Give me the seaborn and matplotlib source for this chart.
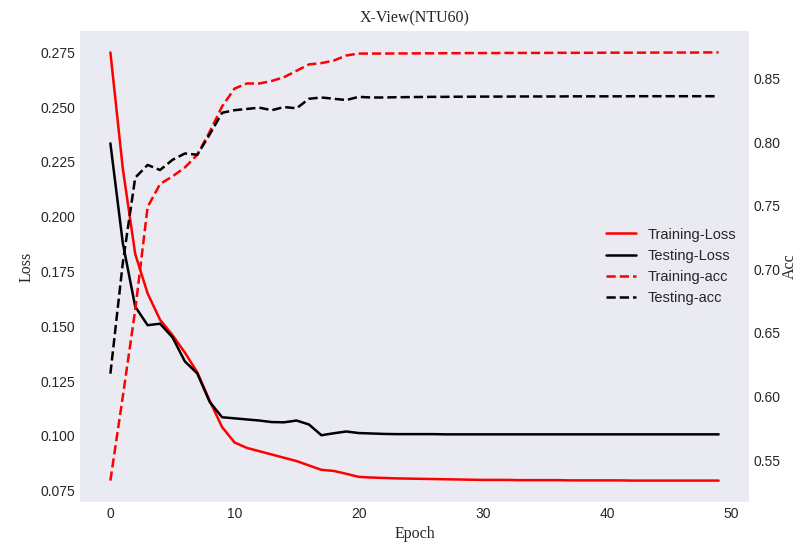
import numpy as np
import pandas as pd
import matplotlib
matplotlib.use("Agg")
import matplotlib.pyplot as plt
import seaborn as sns

# Datos (50 épocas)
epocas = list(range(50))

train_loss = [0.275, 0.222, 0.183, 0.165, 0.153, 0.146, 0.138, 0.129, 0.116, 0.104,
              0.097, 0.0945, 0.093, 0.0915, 0.090, 0.0885, 0.0865, 0.0845, 0.0840, 0.0827,
              0.0813, 0.0810, 0.0808, 0.0806, 0.0805, 0.0804, 0.0803, 0.0802, 0.0801, 0.0800,
              0.0799, 0.0799, 0.0799, 0.0798, 0.0798, 0.0798, 0.0798, 0.0797, 0.0797, 0.0797,
              0.0797, 0.0797, 0.0796, 0.0796, 0.0796, 0.0796, 0.0796, 0.0796, 0.0796, 0.0796]

test_loss = [0.2335, 0.188, 0.159, 0.1505, 0.1512, 0.145, 0.134, 0.1285, 0.1155, 0.1085,
             0.1080, 0.1075, 0.1070, 0.1063, 0.1062, 0.1070, 0.1052, 0.1003, 0.1012, 0.1020,
             0.1013, 0.1011, 0.1009, 0.1008, 0.1008, 0.1008, 0.1008, 0.1007, 0.1007, 0.1007,
             0.1007, 0.1007, 0.1007, 0.1007, 0.1007, 0.1007, 0.1007, 0.1007, 0.1007, 0.1007,
             0.1007, 0.1007, 0.1007, 0.1007, 0.1007, 0.1007, 0.1007, 0.1007, 0.1007, 0.1007]

train_acc = [0.534, 0.600, 0.668, 0.749, 0.767, 0.773, 0.780, 0.790, 0.808, 0.828,
             0.842, 0.846, 0.846, 0.848, 0.851, 0.856, 0.861, 0.862, 0.864, 0.868,
             0.8695, 0.8695, 0.8695, 0.8696, 0.8696, 0.8697, 0.8697, 0.8698, 0.8698, 0.8699,
             0.8699, 0.8699, 0.8700, 0.8700, 0.8700, 0.8700, 0.8701, 0.8701, 0.8701, 0.8701,
             0.8702, 0.8702, 0.8702, 0.8702, 0.8703, 0.8703, 0.8703, 0.8703, 0.8704, 0.8704]

test_acc = [0.618, 0.705, 0.772, 0.782, 0.778, 0.786, 0.791, 0.790, 0.806, 0.823,
            0.825, 0.826, 0.827, 0.825, 0.8275, 0.8265, 0.834, 0.835, 0.834, 0.833,
            0.8355, 0.835, 0.835, 0.8352, 0.8353, 0.8354, 0.8355, 0.8355, 0.8356, 0.8356,
            0.8357, 0.8357, 0.8357, 0.8358, 0.8358, 0.8358, 0.8358, 0.8359, 0.8359, 0.8359,
            0.8359, 0.8359, 0.8360, 0.8360, 0.8360, 0.8360, 0.8360, 0.8360, 0.8360, 0.8360]

df = pd.DataFrame({"Epoch": epocas, "train_loss": train_loss, "test_loss": test_loss,
                   "train_acc": train_acc, "test_acc": test_acc})

sns.set_theme(style="dark")
plt.rcParams["font.family"] = ["Liberation Sans", "DejaVu Sans"]
serif = ["Liberation Serif", "DejaVu Serif"]
grosor = 1.8

fig, ax1 = plt.subplots(figsize=(8.03, 5.52), dpi=100)
fig.subplots_adjust(left=0.0996, right=0.9328, top=0.9438, bottom=0.0906)

sns.lineplot(data=df, x="Epoch", y="train_loss", ax=ax1, color="red", linewidth=grosor, label="Training-Loss")
sns.lineplot(data=df, x="Epoch", y="test_loss", ax=ax1, color="black", linewidth=grosor, label="Testing-Loss")

ax2 = ax1.twinx()
sns.lineplot(data=df, x="Epoch", y="train_acc", ax=ax2, color="red", linewidth=grosor, linestyle="--", label="Training-acc")
sns.lineplot(data=df, x="Epoch", y="test_acc", ax=ax2, color="black", linewidth=grosor, linestyle="--", label="Testing-acc")

ax1.set_title("X-View(NTU60)", family=serif, fontsize=11.5)
ax1.set_xlabel("Epoch", family=serif, fontsize=11.5)
ax1.set_ylabel("Loss", family=serif, fontsize=11.5)
ax2.set_ylabel("Acc", family=serif, fontsize=11.5, labelpad=1)

ax1.set_xticks([0, 10, 20, 30, 40, 50])
ax1.set_yticks(np.arange(0.075, 0.276, 0.025))
ax2.set_yticks(np.arange(0.55, 0.851, 0.05))
ax1.tick_params(labelsize=10, length=0)
ax2.tick_params(labelsize=10, length=0)
for sp in list(ax1.spines.values()) + list(ax2.spines.values()):
    sp.set_visible(False)

# Leyenda combinada de ambos ejes
h1, l1 = ax1.get_legend_handles_labels()
h2, l2 = ax2.get_legend_handles_labels()
ax1.get_legend().remove()
ax2.get_legend().remove()
ax2.legend(h1 + h2, l1 + l2, loc="center right", frameon=False, fontsize=10.5)

plt.savefig("out.png", dpi=100)
plt.close()
